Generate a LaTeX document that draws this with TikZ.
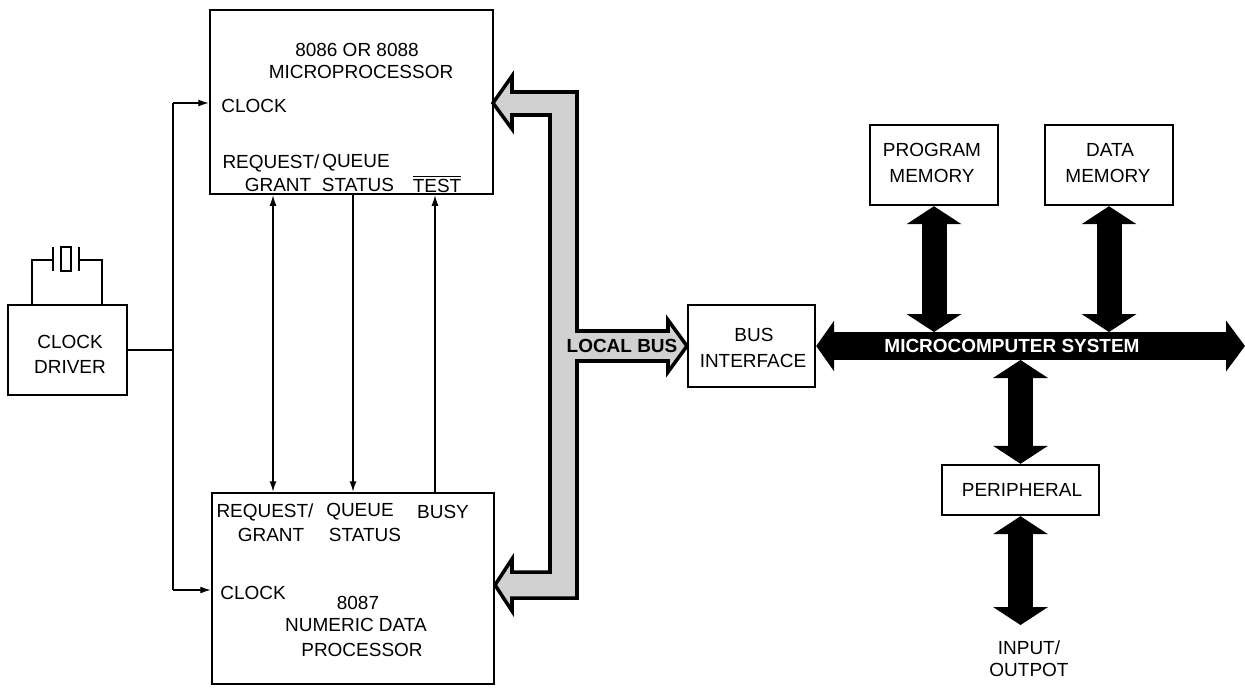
\documentclass[tikz,border=0pt]{standalone}
\usepackage{fontspec}
\setmainfont{Liberation Sans}
\usetikzlibrary{arrows.meta, positioning}

\tikzset{
  box/.style={draw, line width=1.4pt, inner sep=0pt},
  txt/.style={inner sep=0pt, font=\fontsize{10.8}{13}\selectfont},
  sig/.style={line width=0.8pt},
  sigarrow/.style={sig, -{Latex[length=6pt,width=4pt]}},
  fatbus/.style={line width=0.5cm,
    {Triangle[length=0.36cm,width=1.1cm,line width=0pt]}-{Triangle[length=0.36cm,width=1.1cm,line width=0pt]}},
  sysbus/.style={line width=0.56cm,
    {Triangle[length=0.36cm,width=1.02cm,line width=0pt]}-{Triangle[length=0.38cm,width=1.02cm,line width=0pt]}},
}

\begin{document}
\begin{tikzpicture}[x=0.02cm, y=-0.02cm]
\useasboundingbox (0,0) rectangle (1245,687);

\node[box, minimum width=5.66cm, minimum height=3.68cm] (mp) at (351.5,102) {};
\node[box, minimum width=5.64cm, minimum height=3.82cm] (ndp) at (353,588.5) {};
\node[box, minimum width=2.38cm, minimum height=1.8cm] (drv) at (67.5,350) {};
\node[box, minimum width=2.54cm, minimum height=1.64cm] (bi) at (751.5,346) {};
\node[box, minimum width=2.56cm, minimum height=1.6cm] (pm) at (934,165) {};
\node[box, minimum width=2.56cm, minimum height=1.6cm] (dm) at (1109,165) {};
\node[box, minimum width=3.14cm, minimum height=1.0cm] (per) at (1020.5,490) {};

% texts
\node[txt] (mp1) at (357,50) {8086 OR 8088};
\node[txt] (mp2) at (361,72) {MICROPROCESSOR};
\node[txt, anchor=west] (mpck) at (221,106) {CLOCK};
\node[txt] (mprq) at (271,163) {REQUEST/};
\node[txt] (mpq) at (356,163) {QUEUE};
\node[txt] (mpgr) at (278,185) {GRANT};
\node[txt] (mpst) at (358,185) {STATUS};
\node[txt] (mpts) at (437,184) {$\overline{\mbox{TEST}}$};

\node[txt] (ndrq) at (265,512) {REQUEST/};
\node[txt] (ndq) at (360,512) {QUEUE};
\node[txt] (ndbs) at (443,512) {BUSY};
\node[txt] (ndgr) at (271,535) {GRANT};
\node[txt] (ndst) at (365,535) {STATUS};
\node[txt, anchor=west] (ndck) at (220,593) {CLOCK};
\node[txt] (nd1) at (358,603) {8087};
\node[txt] (nd2) at (356,625) {NUMERIC DATA};
\node[txt] (nd3) at (362,650) {PROCESSOR};

\node[txt] (drv1) at (70,342) {CLOCK};
\node[txt] (drv2) at (70,367) {DRIVER};
\node[txt] (bi1) at (754,335) {BUS};
\node[txt] (bi2) at (753,361) {INTERFACE};
\node[txt] (pm1) at (932,150) {PROGRAM};
\node[txt] (pm2) at (932,176) {MEMORY};
\node[txt] (dm1) at (1110,150) {DATA};
\node[txt] (dm2) at (1108,176) {MEMORY};
\node[txt] (per1) at (1022,490) {PERIPHERAL};
\node[txt] (io1) at (1029,648) {INPUT/};
\node[txt] (io2) at (1029,670) {OUTPOT};

% crystal
\draw[sig, line width=1.2pt] (drv.north -| 32,0) -- (32,260) -- (53,260) (53,247) -- (53,271)
  (79,247) -- (79,271) (79,260) -- (102,260) -- (drv.north -| 102,0);
\draw[sig, line width=1.2pt] (61,247) rectangle (71,271);

% clock
\coordinate (ckm) at (173,350);
\coordinate (ck1) at (173,103);
\coordinate (ck2) at (173,590);
\draw[sig] (drv.east) -- (ckm);
\draw[sig] (ck1) -- (ck2);
\draw[sigarrow] (ck1) -- (ck1 -| mp.west);
\draw[sigarrow] (ck2) -- (ck2 -| ndp.west);

% 8086 <-> 8087
\coordinate (rq) at (273,0);
\coordinate (qs) at (353,0);
\coordinate (ts) at (435,0);
\draw[sig, {Latex[length=6pt,width=4pt]}-{Latex[length=6pt,width=4pt]}] (rq |- mp.south) -- (rq |- ndp.north);
\draw[sigarrow] (qs |- mp.south) -- (qs |- ndp.north);
\draw[sigarrow] (ts |- ndp.north) -- (ts |- mp.south);

% local bus
\draw[line width=2pt, fill=black!18, line join=miter]
  (493,103) -- (512,76) -- (512,92) -- (577,92) -- (577,331) -- (668,331) -- (668,320)
  -- (687,346) -- (668,372) -- (668,361) -- (577,361) -- (577,598) -- (512,598) -- (512,611)
  -- (495,585) -- (512,559) -- (512,572) -- (550,572) -- (550,115) -- (512,115) -- (512,129) -- cycle;
\node[txt, font=\fontsize{10.8}{13}\selectfont\bfseries] (lb) at (622,346) {LOCAL BUS};

% microcomputer system bus
\coordinate (sysR) at (1245,346);
\coordinate (bustop) at (0,332);
\coordinate (busbot) at (0,360);
\coordinate (iobot) at (0,625);
\draw[sysbus] (bi.east) -- (sysR);
\node[txt, white, font=\fontsize{10.8}{13}\selectfont\bfseries] (sys) at (1012,346) {MICROCOMPUTER SYSTEM};
\draw[fatbus] (pm.south) -- (pm.south |- bustop);
\draw[fatbus] (dm.south) -- (dm.south |- bustop);
\draw[fatbus] (per.north |- busbot) -- (per.north);
\draw[fatbus] (per.south) -- (per.south |- iobot);

\end{tikzpicture}
\end{document}
